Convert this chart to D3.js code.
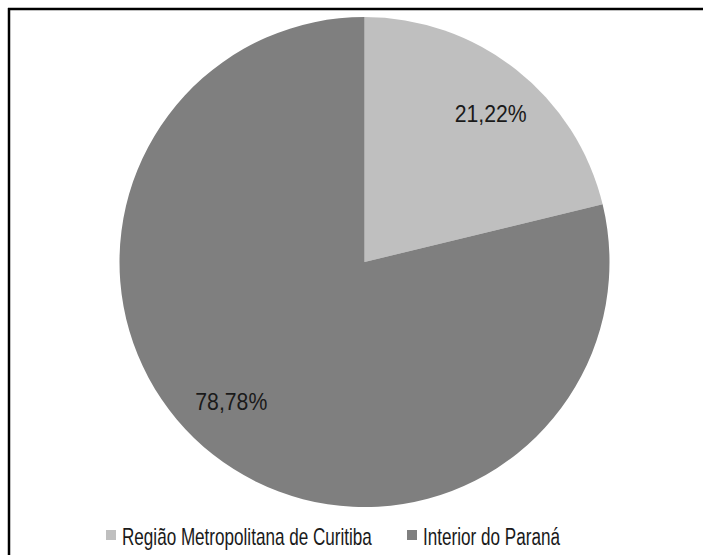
<!DOCTYPE html>
<html><head><meta charset="utf-8">
<script src="https://cdn.jsdelivr.net/npm/d3@7"></script>
<style>
html,body{margin:0;padding:0;background:#fff;}
svg{display:block;}
text{font-family:"Liberation Sans",Arial,sans-serif;fill:#1a1a1a;}
</style></head>
<body>
<script>
const categories = ["Região Metropolitana de Curitiba", "Interior do Paraná"];
const values = [21.22, 78.78];
const valueLabels = ["21,22%", "78,78%"];
const colors = ["#bfbfbf", "#7f7f7f"];

const W = 711, H = 555;
const svg = d3.select("body").append("svg").attr("width", W).attr("height", H);

// frame (top and left only visible)
svg.append("line").attr("x1", 8).attr("x2", 703).attr("y1", 9).attr("y2", 9).attr("stroke", "#000").attr("stroke-width", 2.5);
svg.append("line").attr("x1", 9).attr("x2", 9).attr("y1", 8).attr("y2", H).attr("stroke", "#000").attr("stroke-width", 2.5);

const cx = 364.5, cy = 262, r = 245;
const pie = d3.pie().sort(null).value(d => d)(values);
const arc = d3.arc().innerRadius(0).outerRadius(r);
const labelArc = d3.arc().innerRadius(r * 0.8).outerRadius(r * 0.8);

const g = svg.append("g").attr("transform", `translate(${cx},${cy})`);
g.selectAll("path").data(pie).join("path")
  .attr("d", arc).attr("fill", (d, i) => colors[i]);

// narrow-looking text: horizontally compressed via scale
function narrow(sel, targetW) {
  sel.each(function () {
    const w = this.getComputedTextLength();
    const s = targetW / w;
    const t = d3.select(this);
    const x = +t.attr("x") || 0;
    t.attr("transform", (t.attr("transform") || "") + ` translate(${x},0) scale(${s},1) translate(${-x},0)`);
  });
}

pie.forEach((d, i) => {
  const c = labelArc.centroid(d);
  const adj = i === 1 ? [-12, -14] : [5, 6];
  const t = g.append("text")
    .attr("transform", `translate(${c[0] + adj[0]},${c[1] + adj[1]})`)
    .attr("text-anchor", "middle").attr("dy", "0.35em")
    .style("font-size", "23px")
    .text(valueLabels[i]);
  narrow(t, 72);
});

// legend
const legendX = [106, 407];
const legendW = [250, 137];
const lg = svg.append("g");
categories.forEach((c, i) => {
  lg.append("rect").attr("x", legendX[i]).attr("y", 530).attr("width", 10).attr("height", 10).attr("fill", colors[i]);
  const t = lg.append("text").attr("x", legendX[i] + 16).attr("y", 545)
    .style("font-size", "23px").text(c);
  narrow(t, legendW[i]);
});
</script>
</body></html>
